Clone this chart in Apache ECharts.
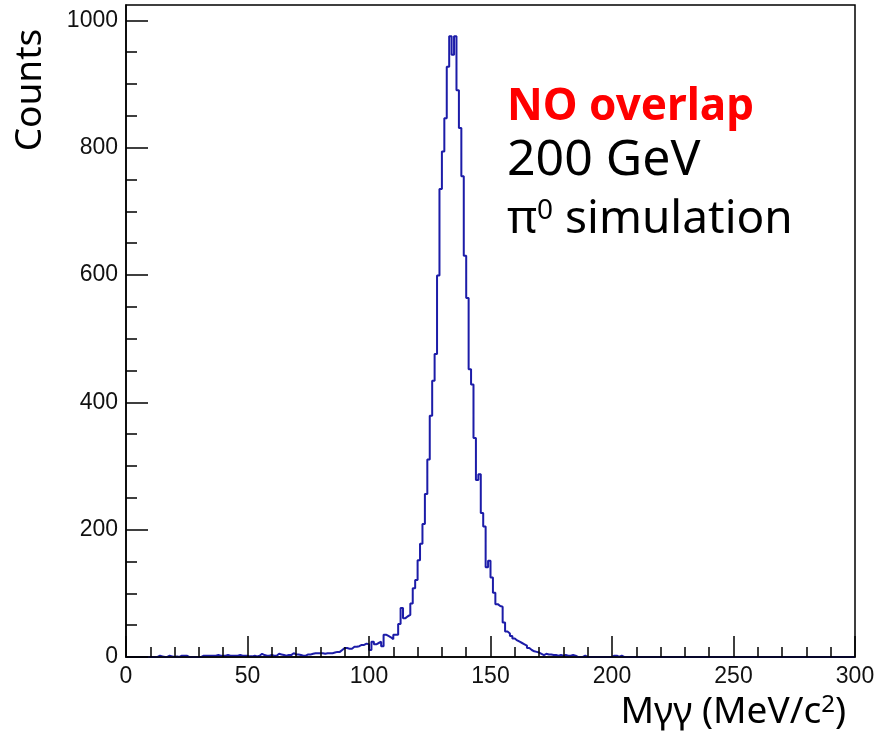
<!DOCTYPE html>
<html><head><meta charset="utf-8">
<script src="https://cdn.jsdelivr.net/npm/echarts@6/dist/echarts.min.js"></script>
<style>html,body{margin:0;padding:0;background:#fff}#c{width:879px;height:734px}</style>
</head><body><div id="c"></div>
<script>
// Histogram: 1 MeV bins from 0 to 300 MeV/c^2
const binLow = 0;
const binWidth = 1;
const counts = [
  0,0,0,0,0,0,0,0,0,0,
  0,0,0,2,1,0,0,2,1,0,
  1,0,2,2,2,0,0,0,0,0,
  0,2,2,2,2,2,2,3,2,2,
  2,3,2,2,2,2,3,2,2,2,
  1,1,2,1,2,5,3,2,2,3,
  2,2,5,4,3,2,3,3,6,4,
  4,3,2,2,4,4,5,6,6,6,
  6,5,6,6,6,7,8,8,11,14,
  14,13,13,16,16,17,19,19,21,20,
  11,24,20,22,24,17,35,33,31,28,
  35,35,52,77,61,64,66,84,108,121,
  152,178,209,256,310,379,434,476,599,735,
  794,846,927,975,946,975,890,831,755,630,
  564,452,428,344,278,287,226,205,141,151,
  125,101,83,80,79,54,40,37,33,29,
  26,24,22,20,18,14,11,9,8,7,
  5,3,5,4,4,3,3,2,3,2,
  3,2,2,3,2,0,0,0,2,0,
  0,0,0,0,0,0,0,0,0,0,
  2,2,0,2,0,0,0,0,0,0,
  0,0,0,0,0,0,0,0,0,0,
  0,0,0,0,0,0,0,0,0,0,
  0,0,0,0,0,0,0,0,0,0,
  0,0,0,0,0,0,0,0,0,0,
  0,0,0,0,0,0,0,0,0,0,
  0,0,0,0,0,0,0,0,0,0,
  0,0,0,0,0,0,0,0,0,0,
  0,0,0,0,0,0,0,0,0,0,
  0,0,0,0,0,0,0,0,0,0
];
const xMin = 0, xMax = 300, xInterval = 50;
const yMax = 1024;
const yTicks = [0,200,400,600,800,1000];
const yMinorTicks = [50,100,150,250,300,350,450,500,550,650,700,750,850,900,950];

const pts = counts.map((v, i) => [binLow + i * binWidth, v]);
pts.push([binLow + counts.length * binWidth, counts[counts.length - 1]]);

const AX = '#000';
const labelFont = {fontFamily: '"Liberation Sans", Arial, sans-serif', fontSize: 23, color: '#111'};
const titleFont = '"Noto Sans", "Open Sans", sans-serif';

const chart = echarts.init(document.getElementById('c'), null, {renderer: 'canvas'});
chart.setOption({
  animation: false,
  backgroundColor: '#fff',
  grid: {left: 126, right: 24, top: 5, bottom: 77, show: true, borderColor: AX, borderWidth: 1.5, backgroundColor: 'transparent'},
  xAxis: {
    type: 'value', min: xMin, max: xMax, interval: xInterval, z: 10,
    axisLine: {show: true, onZero: false, lineStyle: {color: AX, width: 1.5}},
    axisTick: {show: true, inside: true, length: 21, lineStyle: {color: AX, width: 1.5}},
    minorTick: {show: true, splitNumber: 5, length: 10, lineStyle: {color: AX, width: 1.5}},
    splitLine: {show: false},
    axisLabel: Object.assign({margin: 8, formatter: v => String(v)}, labelFont)
  },
  yAxis: [{
    type: 'value', min: 0, max: yMax, z: 10, position: 'left',
    axisLine: {show: true, onZero: false, lineStyle: {color: AX, width: 1.5}},
    axisTick: {show: true, inside: true, length: 22, customValues: yTicks, lineStyle: {color: AX, width: 1.5}},
    splitLine: {show: false},
    axisLabel: Object.assign({margin: 8, customValues: yTicks, formatter: v => String(v)}, labelFont)
  }, {
    type: 'value', min: 0, max: yMax, z: 10, position: 'left', offset: 0,
    axisLine: {show: false},
    axisTick: {show: true, inside: true, length: 11, customValues: yMinorTicks, lineStyle: {color: AX, width: 1.5}},
    splitLine: {show: false},
    axisLabel: {show: false}
  }],
  series: [{
    type: 'line', data: pts, step: 'end', showSymbol: false, symbol: 'none',
    yAxisIndex: 0, z: 2,
    lineStyle: {color: '#1c1ca8', width: 2},
    itemStyle: {color: '#1c1ca8'}
  }],
  graphic: [
    {type: 'text', x: 30, y: 90, rotation: Math.PI / 2,
     style: {text: 'Counts', fontFamily: titleFont, fontSize: 37, fill: '#000', align: 'center', verticalAlign: 'middle'}},
    {type: 'text', x: 846, y: 712,
     style: {text: 'Mγγ (MeV/c{s|2})', fontFamily: titleFont, fontSize: 37, fill: '#000', align: 'right', verticalAlign: 'middle',
       rich: {s: {fontFamily: titleFont, fontSize: 24, fill: '#000', verticalAlign: 'top'}}}},
    {type: 'text', x: 507, y: 107,
     style: {text: 'NO overlap', fontFamily: titleFont, fontSize: 44, fontWeight: 'bold', fill: '#ff0000', align: 'left', verticalAlign: 'middle'}},
    {type: 'text', x: 507, y: 161,
     style: {text: '200 GeV', fontFamily: titleFont, fontSize: 50, fill: '#000', align: 'left', verticalAlign: 'middle'}},
    {type: 'text', x: 507, y: 220,
     style: {text: 'π{s|0} simulation', fontFamily: titleFont, fontSize: 46, fill: '#000', align: 'left', verticalAlign: 'middle',
       rich: {s: {fontFamily: titleFont, fontSize: 28, fill: '#000', verticalAlign: 'top'}}}}
  ]
});
</script>
</body></html>
